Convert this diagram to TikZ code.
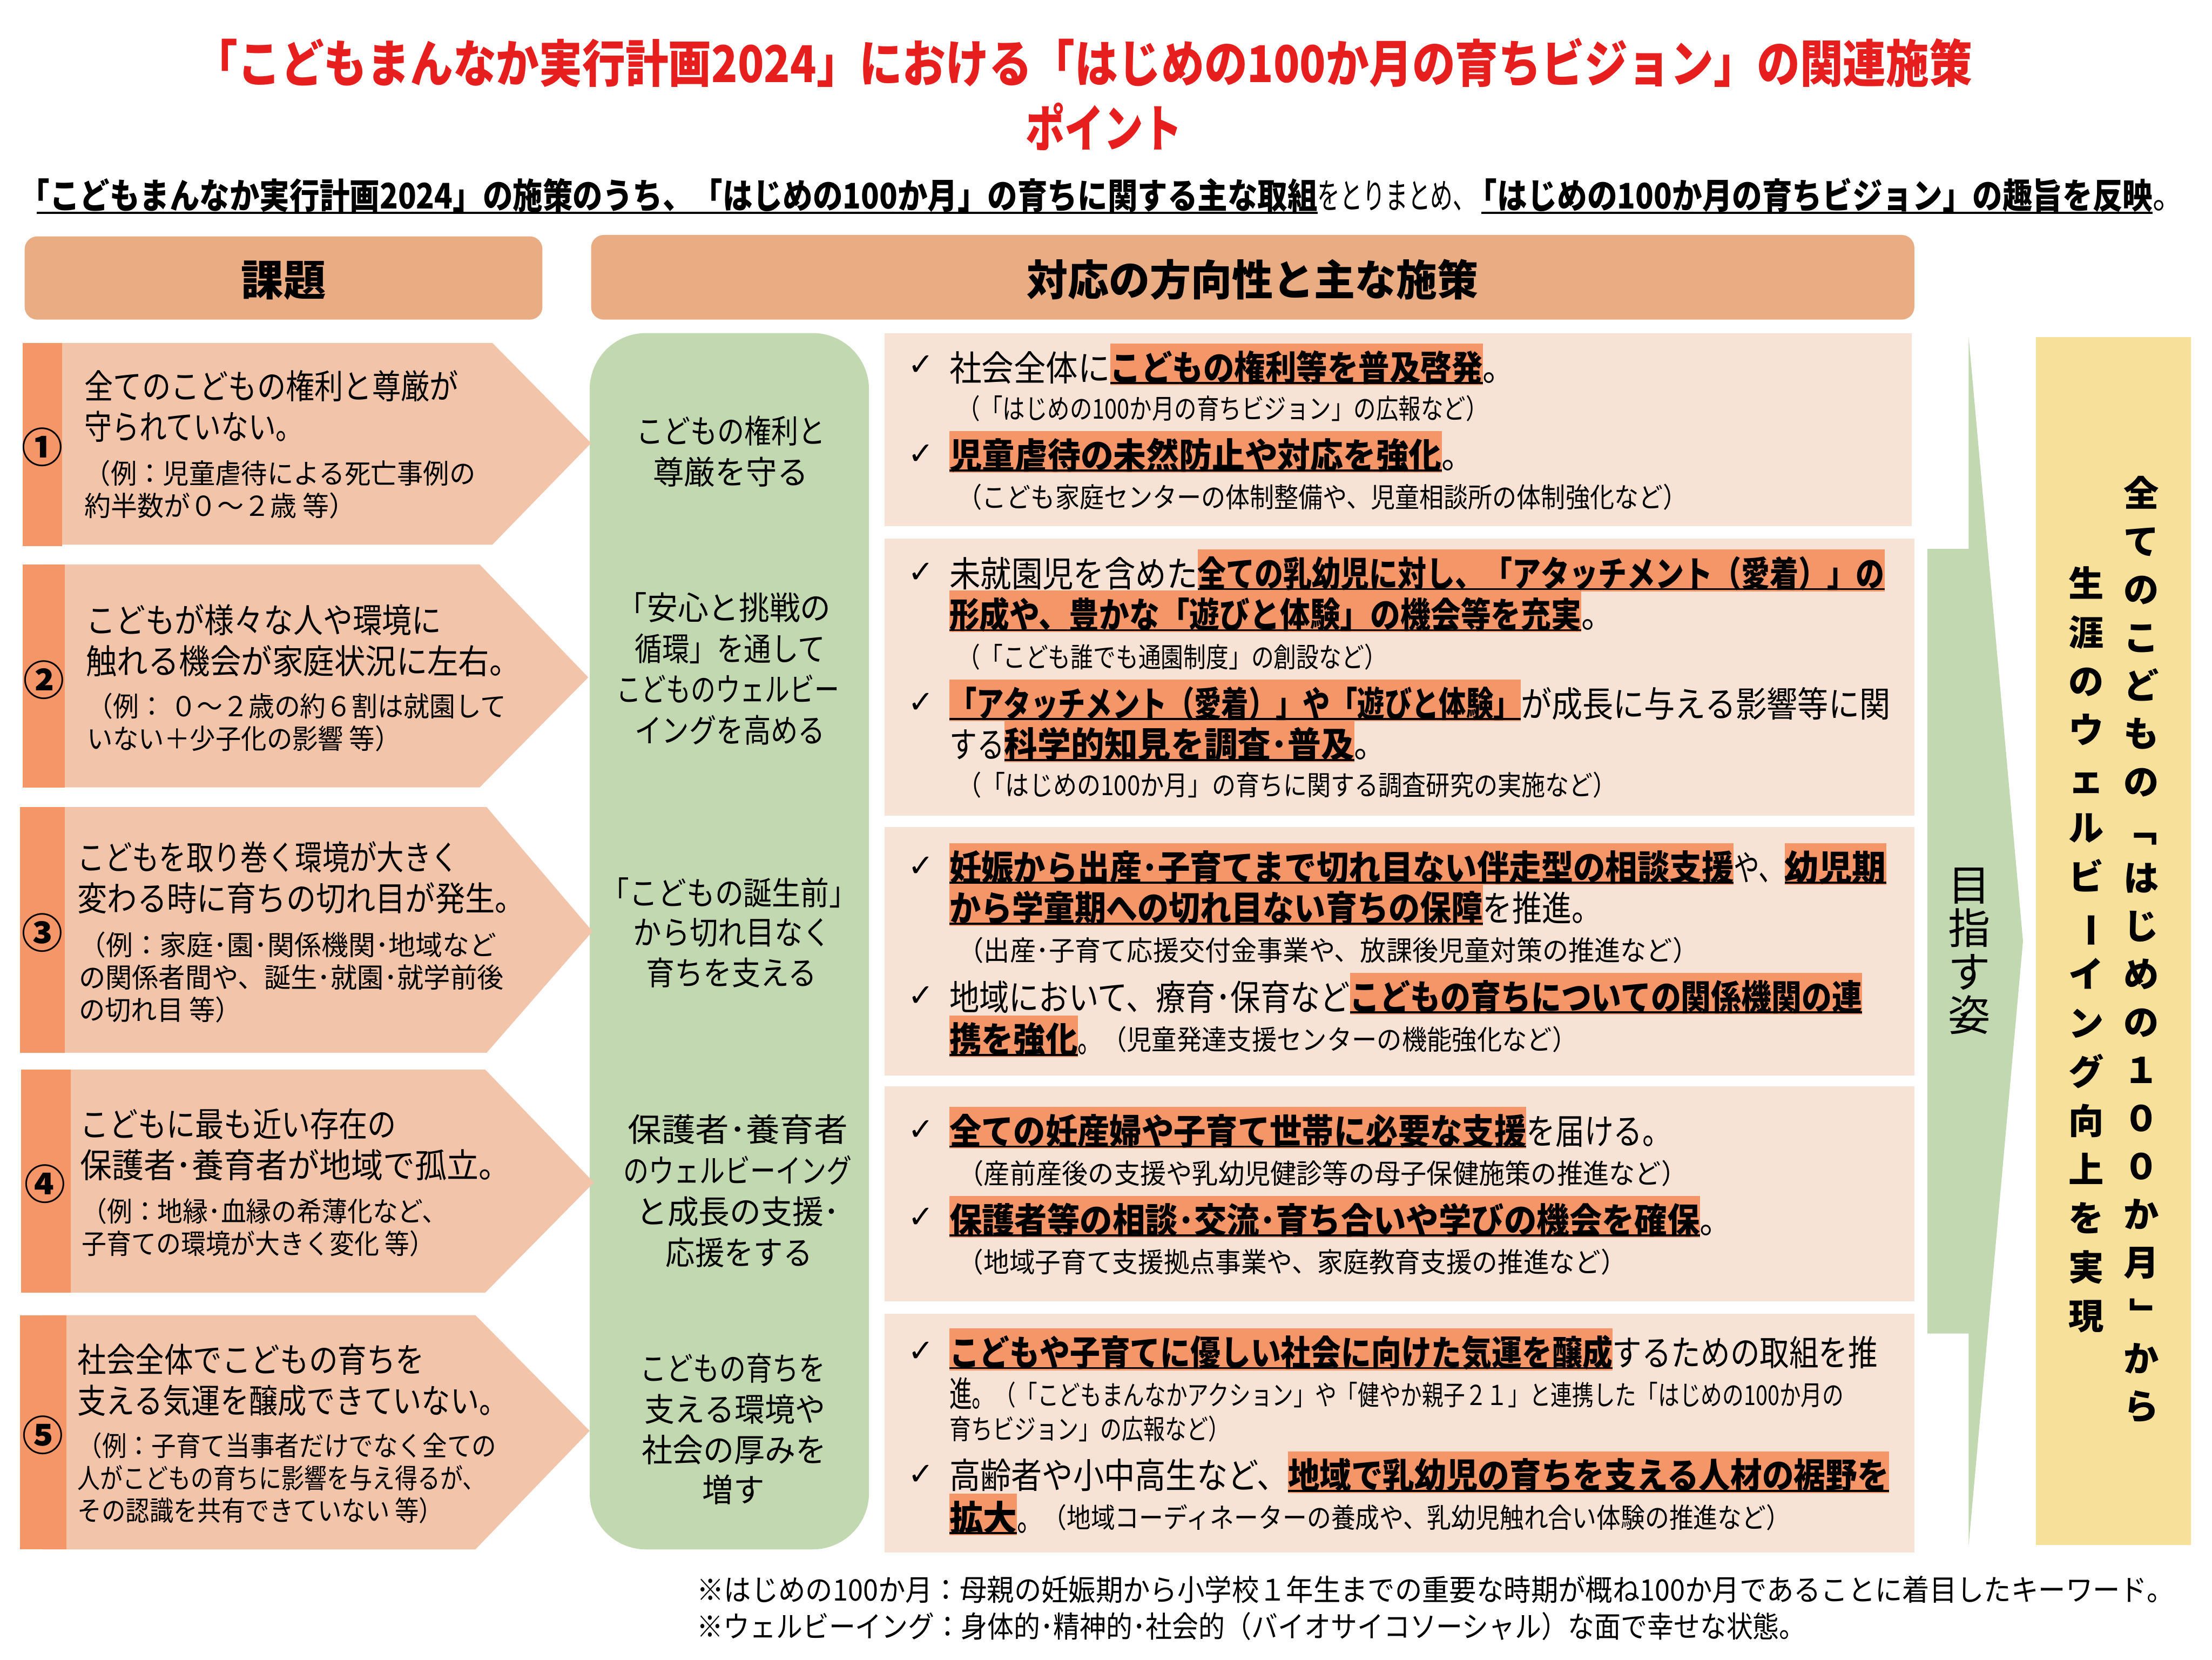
\documentclass[tikz,border=0pt]{standalone}
\usepackage{fontspec}
\usepackage{graphicx}
\setmainfont{Noto Sans CJK JP}
\newfontfamily\symf{DejaVu Sans}
\definecolor{hdrc}{HTML}{EAAC82}
\definecolor{barc}{HTML}{F49668}
\definecolor{pentc}{HTML}{F2C5AB}
\definecolor{greenc}{HTML}{C1D8B0}
\definecolor{panelc}{HTML}{F6E3D5}
\definecolor{yellc}{HTML}{F6E09A}
\definecolor{titlec}{HTML}{E61E1E}
\tikzset{
  linetxt/.style={inner sep=0pt,outer sep=0pt,anchor=base west},
  midtxt/.style={inner sep=0pt,outer sep=0pt,anchor=base},
  hdrbox/.style={fill=hdrc,rounded corners=9pt},
  barbox/.style={fill=barc},
  pentbox/.style={fill=pentc},
  panelbox/.style={fill=panelc},
  greenbox/.style={fill=greenc},
}
\newcounter{tn}
% plain segment: x1 x2 ycentre size text
\newcommand\seg[5]{\stepcounter{tn}\pgfmathsetmacro\segw{#2-#1}%
  \node[linetxt] (t\arabic{tn}) at ({#1},{#3+0.40*#4}) {\fontsize{#4}{#4}\selectfont\resizebox{\segw pt}{\height}{#5}};}
% bold, underlined, highlighted segment
\newcommand\hiseg[5]{\fill[barc] ({#1},{#3-16.5}) rectangle ({#2},{#3+13});
  \stepcounter{tn}\pgfmathsetmacro\segw{#2-#1}%
  \node[linetxt] (t\arabic{tn}) at ({#1},{#3+0.40*#4}) {\fontsize{#4}{#4}\selectfont\bfseries\resizebox{\segw pt}{\height}{#5}};
  \fill[black] ({#1},{#3+10.8}) rectangle ({#2},{#3+12.2});}
% bold underlined segment: x1 x2 ycentre size text, then underline start
\newcommand\ulseg[6]{\stepcounter{tn}\pgfmathsetmacro\segw{#2-#1}%
  \node[linetxt] (t\arabic{tn}) at ({#1},{#3+0.40*#4}) {\fontsize{#4}{#4}\selectfont\bfseries\resizebox{\segw pt}{\height}{#5}};
  \fill[black] ({#6},{#3+12}) rectangle ({#2},{#3+13.5});}
% bold title segment
\newcommand\bseg[5]{\stepcounter{tn}\pgfmathsetmacro\segw{#2-#1}%
  \node[linetxt,text=titlec] (t\arabic{tn}) at ({#1},{#3+0.40*#4}) {\fontsize{#4}{#4}\selectfont\bfseries\resizebox{\segw pt}{\height}{#5}};}
\newcommand\chk[2]{\stepcounter{tn}\node[midtxt] (t\arabic{tn}) at ({#1},{#2+8}) {\fontsize{22}{22}\selectfont\symf ✓};}
\newcommand\vrot[1]{\rotatebox[origin=c]{-90}{#1}}
\begin{document}
\begin{tikzpicture}[x=1pt,y=-1pt]
\useasboundingbox (0,0) rectangle (1568,1176);
% title
\bseg{138}{1398}{44}{36}{「こどもまんなか実行計画2024」における「はじめの100か月の育ちビジョン」の関連施策}
\bseg{727}{838}{90}{36}{ポイント}
% subtitle
\ulseg{14}{934}{138}{25}{「こどもまんなか実行計画2024」の施策のうち、「はじめの100か月」の育ちに関する主な取組}{26}
\seg{934}{1046}{138}{25}{をとりまとめ、}
\ulseg{1040}{1526}{138}{25}{「はじめの100か月の育ちビジョン」の趣旨を反映}{1050}
\seg{1526}{1548}{138}{25}{。}
% headers
\node[hdrbox,minimum width=367pt,minimum height=59pt,inner sep=0pt,font=\fontsize{30}{30}\selectfont\bfseries] (hdrA) at (201,197) {\raisebox{-12.4pt}[0pt][0pt]{課題}};
\node[hdrbox,minimum width=938pt,minimum height=60pt,inner sep=0pt,font=\fontsize{30}{30}\selectfont\bfseries] (hdrB) at (888,196.5) {\raisebox{-12.9pt}[0pt][0pt]{\resizebox{320pt}{\height}{対応の方向性と主な施策}}};
% green column
\fill[greenbox,rounded corners=40pt] (418,236) rectangle (616,1098);
% panels
\fill[panelbox] (627,236) rectangle (1355,373);
\fill[panelbox] (627,381.5) rectangle (1357,578);
\fill[panelbox] (627,586) rectangle (1357,762);
\fill[panelbox] (627,770) rectangle (1357,922);
\fill[panelbox] (627,931) rectangle (1357,1100);
% pentagons
\fill[pentbox] (30,243) -- (349,243) -- (419,314) -- (349,386) -- (30,386) -- cycle;
\fill[barbox] (16,243) rectangle (44,387);
\fill[pentbox] (30,400) -- (340,400) -- (417,480) -- (340,558) -- (30,558) -- cycle;
\fill[barbox] (16,400) rectangle (46,558);
\fill[pentbox] (30,572) -- (345,572) -- (420,660) -- (345,746) -- (30,746) -- cycle;
\fill[barbox] (14,572) rectangle (46,746);
\fill[pentbox] (30,758) -- (344,758) -- (421,838) -- (344,916) -- (30,916) -- cycle;
\fill[barbox] (15,758) rectangle (50,916);
\fill[pentbox] (30,932) -- (337,932) -- (418,1014) -- (337,1098) -- (30,1098) -- cycle;
\fill[barbox] (14,932) rectangle (47,1098);
% circled numbers
\foreach \nm/\cx/\cy/\gl in {a/30/317/①,b/31/482/②,c/30/661/③,d/32/839/④,e/30.5/1017/⑤}{
  \node[inner sep=0pt,font=\fontsize{29}{29}\selectfont\bfseries] (num\nm) at (\cx,\cy) {\gl};
}
% row 1
\seg{60}{325}{273}{24}{全てのこどもの権利と尊厳が}
\seg{60}{215}{302}{24}{守られていない。}
\seg{60}{337}{335}{19.5}{（例：児童虐待による死亡事例の}
\seg{60}{252}{358}{19.5}{約半数が０～２歳 等）}
% row 2
\seg{61}{313}{439}{24}{こどもが様々な人や環境に}
\seg{61}{369}{468}{24}{触れる機会が家庭状況に左右。}
\seg{62}{359}{500}{19.5}{（例： ０～２歳の約６割は就園して}
\seg{62}{284}{523}{19.5}{いない＋少子化の影響 等）}
% row 3
\seg{55}{325}{607}{24}{こどもを取り巻く環境が大きく}
\seg{55}{372}{636}{24}{変わる時に育ちの切れ目が発生。}
\seg{56}{352}{669}{19.5}{（例：家庭･園･関係機関･地域など}
\seg{56}{357}{692}{19.5}{の関係者間や、誕生･就園･就学前後}
\seg{56}{171}{715}{19.5}{の切れ目 等）}
% row 4
\seg{57}{281}{796}{24}{こどもに最も近い存在の}
\seg{57}{362}{825}{24}{保護者･養育者が地域で孤立。}
\seg{58}{317}{858}{19.5}{（例：地縁･血縁の希薄化など、}
\seg{58}{308}{881}{19.5}{子育ての環境が大きく変化 等）}
% row 5
\seg{55}{301}{963}{24}{社会全体でこどもの育ちを}
\seg{55}{360}{992}{24}{支える気運を醸成できていない。}
\seg{55}{352}{1024}{19.5}{（例：子育て当事者だけでなく全ての}
\seg{55}{344}{1047}{19.5}{人がこどもの育ちに影響を与え得るが、}
\seg{55}{314}{1070}{19.5}{その認識を共有できていない 等）}
% green texts
\seg{451}{585}{305}{23}{こどもの権利と}
\seg{463}{573}{334}{23}{尊厳を守る}
\seg{437}{589}{430}{23}{「安心と挑戦の}
\seg{450}{585}{459}{23}{循環」を通して}
\seg{437}{595}{488}{23}{こどものウェルビー}
\seg{450}{585}{517}{23}{イングを高める}
\seg{426}{608}{632}{23}{「こどもの誕生前」}
\seg{449}{589}{660}{23}{から切れ目なく}
\seg{458}{579}{689}{23}{育ちを支える}
\seg{445}{601}{800}{23}{保護者･養育者}
\seg{442}{604}{829}{23}{のウェルビーイング}
\seg{451}{595}{858}{23}{と成長の支援･}
\seg{472}{576}{887}{23}{応援をする}
\seg{454}{585}{969}{23}{こどもの育ちを}
\seg{457}{585}{998}{23}{支える環境や}
\seg{455}{586}{1027}{23}{社会の厚みを}
\seg{498}{542}{1055}{23}{増す}
% panel 1
\chk{653}{258}
\seg{673}{787}{260}{25}{社会全体に}
\hiseg{787}{1051}{260}{25}{こどもの権利等を普及啓発}
\seg{1051}{1074}{260}{25}{。}
\seg{679}{1055}{289}{19.5}{（「はじめの100か月の育ちビジョン」の広報など）}
\chk{653}{321}
\hiseg{673}{1022}{322}{25}{児童虐待の未然防止や対応を強化}
\seg{1022}{1045}{322}{25}{。}
\seg{679}{1196}{352}{19.5}{（こども家庭センターの体制整備や、児童相談所の体制強化など）}
% panel 2
\chk{653}{405}
\seg{673}{849}{406}{25}{未就園児を含めた}
\hiseg{849}{1336}{406}{25}{全ての乳幼児に対し、「アタッチメント（愛着）」の}
\hiseg{673}{1121}{435}{25}{形成や、豊かな「遊びと体験」の機会等を充実}
\seg{1121}{1144}{435}{25}{。}
\seg{679}{983}{465}{19.5}{（「こども誰でも通園制度」の創設など）}
\chk{653}{497}
\hiseg{673}{1078}{498}{25}{「アタッチメント（愛着）」や「遊びと体験」}
\seg{1078}{1340}{498}{25}{が成長に与える影響等に関}
\seg{673}{712}{527}{25}{する}
\hiseg{712}{960}{527}{25}{科学的知見を調査･普及}
\seg{960}{983}{527}{25}{。}
\seg{679}{1146}{556}{19.5}{（「はじめの100か月」の育ちに関する調査研究の実施など）}
% panel 3
\chk{653}{613}
\hiseg{673}{1229}{614}{25}{妊娠から出産･子育てまで切れ目ない伴走型の相談支援}
\seg{1229}{1265}{614}{25}{や、}
\hiseg{1265}{1337}{614}{25}{幼児期}
\hiseg{673}{1051}{643}{25}{から学童期への切れ目ない育ちの保障}
\seg{1051}{1135}{643}{25}{を推進。}
\seg{679}{1204}{673}{19.5}{（出産･子育て応援交付金事業や、放課後児童対策の推進など）}
\chk{653}{705}
\seg{673}{957}{706}{25}{地域において、療育･保育など}
\hiseg{957}{1320}{706}{25}{こどもの育ちについての関係機関の連}
\hiseg{673}{764}{736}{25}{携を強化}
\seg{764}{781}{736}{25}{。}
\seg{781}{1118}{736}{19.5}{（児童発達支援センターの機能強化など）}
% panel 4
\chk{653}{800}
\hiseg{673}{1082}{801}{25}{全ての妊産婦や子育て世帯に必要な支援}
\seg{1082}{1185}{801}{25}{を届ける。}
\seg{679}{1196}{831}{19.5}{（産前産後の支援や乳幼児健診等の母子保健施策の推進など）}
\chk{653}{862}
\hiseg{673}{1205}{864}{25}{保護者等の相談･交流･育ち合いや学びの機会を確保}
\seg{1205}{1228}{864}{25}{。}
\seg{679}{1153}{894}{19.5}{（地域子育て支援拠点事業や、家庭教育支援の推進など）}
% panel 5
\chk{653}{957}
\hiseg{673}{1143}{958}{25}{こどもや子育てに優しい社会に向けた気運を醸成}
\seg{1143}{1331}{958}{25}{するための取組を推}
\seg{673}{705}{987}{25}{進。}
\seg{705}{1307}{988}{19.5}{（「こどもまんなかアクション」や「健やか親子２１」と連携した「はじめの100か月の}
\seg{673}{872}{1012}{19.5}{育ちビジョン」の広報など）}
\chk{653}{1044}
\seg{673}{913}{1045}{25}{高齢者や小中高生など、}
\hiseg{913}{1339}{1045}{25}{地域で乳幼児の育ちを支える人材の裾野を}
\hiseg{673}{721}{1075}{25}{拡大}
\seg{721}{739}{1075}{25}{。}
\seg{739}{1269}{1075}{19.5}{（地域コーディネーターの養成や、乳幼児触れ合い体験の推進など）}
% big arrow
\fill[greenbox] (1395.5,239) -- (1434,667) -- (1395.5,1095) -- (1395.5,945) -- (1366.3,945) -- (1366.3,389) -- (1395.5,389) -- cycle;
\node[inner sep=0pt,align=center,font=\fontsize{30}{30.7}\selectfont] (aim) at (1396,674) {目\\指\\す\\姿};
% yellow box
\fill[yellc] (1443,239) rectangle (1553,1095);
\node[inner sep=0pt,align=center,font=\fontsize{25}{34.05}\selectfont\bfseries] (colA) at (1518,673) {全\\て\\の\\こ\\ど\\も\\の\\\vrot{「}\\は\\じ\\め\\の\\１\\０\\０\\か\\月\\\vrot{」}\\か\\ら};
\node[inner sep=0pt,align=center,font=\fontsize{25}{34.6}\selectfont\bfseries] (colB) at (1479,673) {生\\涯\\の\\ウ\\ェ\\ル\\ビ\\\vrot{ー}\\イ\\ン\\グ\\向\\上\\を\\実\\現};
% footnotes
\seg{494}{1541}{1126}{21}{※はじめの100か月：母親の妊娠期から小学校１年生までの重要な時期が概ね100か月であることに着目したキーワード。}
\seg{494}{1280}{1152}{21}{※ウェルビーイング：身体的･精神的･社会的（バイオサイコソーシャル）な面で幸せな状態。}
\end{tikzpicture}
\end{document}
